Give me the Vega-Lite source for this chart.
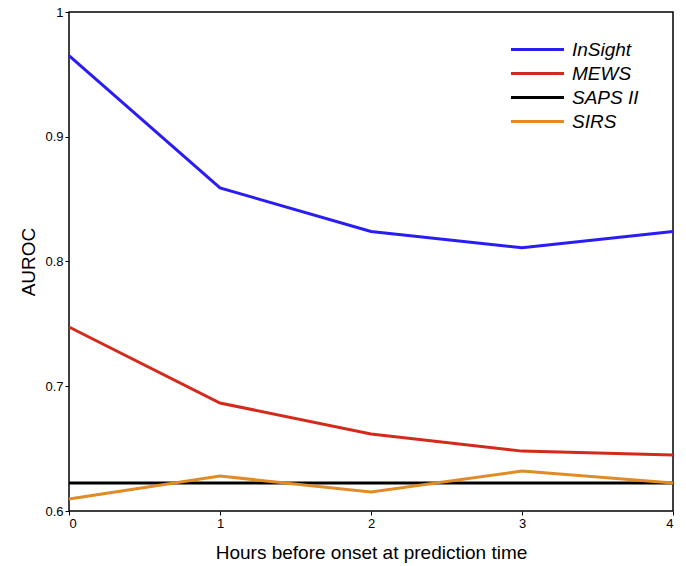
{
  "$schema": "https://vega.github.io/schema/vega-lite/v6.json",
  "width": 604,
  "height": 499,
  "autosize": "none",
  "padding": {"left": 69, "top": 12, "right": 13, "bottom": 55},
  "background": "white",
  "config": {
    "font": "Liberation Sans",
    "view": {"stroke": "black", "strokeWidth": 1.5},
    "axis": {"grid": false, "domain": false, "tickColor": "black", "labelColor": "black", "titleColor": "black", "labelFont": "Liberation Sans", "titleFont": "Liberation Sans", "titleFontWeight": "normal", "labelFontSize": 13, "titleFontSize": 19, "tickSize": 4}
  },
  "data": {"values": [
    {"h": 0, "m": "InSight", "v": 0.965},
    {"h": 1, "m": "InSight", "v": 0.859},
    {"h": 2, "m": "InSight", "v": 0.824},
    {"h": 3, "m": "InSight", "v": 0.811},
    {"h": 4, "m": "InSight", "v": 0.824},
    {"h": 0, "m": "MEWS", "v": 0.7475},
    {"h": 1, "m": "MEWS", "v": 0.6866},
    {"h": 2, "m": "MEWS", "v": 0.6617},
    {"h": 3, "m": "MEWS", "v": 0.648},
    {"h": 4, "m": "MEWS", "v": 0.6449},
    {"h": 0, "m": "SAPS II", "v": 0.6224},
    {"h": 1, "m": "SAPS II", "v": 0.6224},
    {"h": 2, "m": "SAPS II", "v": 0.6224},
    {"h": 3, "m": "SAPS II", "v": 0.6224},
    {"h": 4, "m": "SAPS II", "v": 0.6224},
    {"h": 0, "m": "SIRS", "v": 0.6096},
    {"h": 1, "m": "SIRS", "v": 0.628},
    {"h": 2, "m": "SIRS", "v": 0.6152},
    {"h": 3, "m": "SIRS", "v": 0.632},
    {"h": 4, "m": "SIRS", "v": 0.6224}
  ]},
  "mark": {"type": "line", "strokeWidth": 3},
  "encoding": {
    "x": {"field": "h", "type": "quantitative", "scale": {"domain": [0, 4], "nice": false}, "axis": {"values": [0, 1, 2, 3, 4], "title": "Hours before onset at prediction time", "titlePadding": 13, "labelPadding": 2}},
    "y": {"field": "v", "type": "quantitative", "scale": {"domain": [0.6, 1], "nice": false, "zero": false}, "axis": {"values": [0.6, 0.7, 0.8, 0.9, 1], "format": "~g", "title": "AUROC", "titlePadding": 6, "labelPadding": 2}},
    "color": {"field": "m", "type": "nominal", "scale": {"domain": ["InSight", "MEWS", "SAPS II", "SIRS"], "range": ["#2a1cf5", "#d42a1c", "#000000", "#e08b26"]},
      "legend": {"title": null, "orient": "none", "legendX": 457, "legendY": 26, "symbolType": "M-2.65,0H2.65", "symbolSize": 400, "symbolStrokeWidth": 3, "labelFontSize": 19, "labelFontStyle": "italic", "labelColor": "black", "labelOffset": 23, "rowPadding": 2, "padding": 0}}
  }
}
